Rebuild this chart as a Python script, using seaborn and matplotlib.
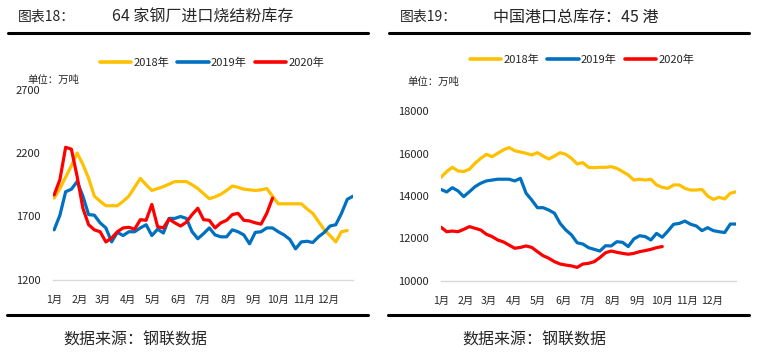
import numpy as np
import pandas as pd
import matplotlib
matplotlib.use("Agg")
import matplotlib.pyplot as plt
import seaborn as sns
from matplotlib.lines import Line2D

sns.set_style("white")
plt.rcParams['font.family'] = ['Noto Sans CJK SC', 'DejaVu Sans']

# weekly data
years = ["2018年", "2019年", "2020年"]
colors = ["#FFC000", "#0070C0", "#FF0000"]
months = ["1月", "2月", "3月", "4月", "5月", "6月", "7月", "8月", "9月", "10月", "11月", "12月"]
month_start_days = [0, 31, 59, 90, 120, 151, 181, 212, 243, 273, 304, 334]

# 64家钢厂进口烧结粉库存 (万吨)
sinter_2018 = [1845, 1920, 2010, 2100, 2200, 2110, 2000, 1860, 1820, 1785, 1785, 1785, 1820,
               1860, 1930, 2000, 1950, 1905, 1920, 1935, 1955, 1975, 1975, 1975, 1950, 1920,
               1880, 1840, 1855, 1875, 1905, 1940, 1930, 1915, 1910, 1905, 1910, 1920, 1860,
               1800, 1800, 1800, 1800, 1800, 1760, 1725, 1660, 1595, 1550, 1500, 1580, 1590]
sinter_2019 = [1595, 1710, 1895, 1915, 1975, 1860, 1715, 1710, 1650, 1610, 1500, 1575, 1550,
               1580, 1580, 1610, 1635, 1550, 1600, 1570, 1685, 1685, 1700, 1685, 1580, 1525,
               1565, 1610, 1555, 1540, 1540, 1595, 1580, 1555, 1485, 1575, 1580, 1610, 1610,
               1580, 1555, 1520, 1445, 1500, 1505, 1495, 1540, 1575, 1625, 1635, 1725, 1835, 1860]
sinter_2020 = [1870, 1990, 2245, 2230, 2015, 1765, 1635, 1595, 1580, 1500, 1530, 1580, 1610,
               1615, 1600, 1675, 1670, 1795, 1620, 1610, 1680, 1650, 1625, 1655, 1715, 1765,
               1675, 1670, 1610, 1650, 1670, 1715, 1725, 1670, 1665, 1650, 1640, 1725, 1845]

# 中国港口总库存:45港 (万吨)
port_2018 = [14880, 15150, 15350, 15180, 15150, 15260, 15540, 15770, 15960, 15850, 16010, 16170,
             16280, 16130, 16070, 16010, 15930, 16040, 15880, 15740, 15880, 16040, 15960, 15770,
             15510, 15570, 15350, 15330, 15350, 15350, 15380, 15300, 15150, 14990, 14750, 14790,
             14750, 14790, 14520, 14410, 14360, 14520, 14520, 14360, 14280, 14280, 14310, 14000,
             13840, 13940, 13860, 14130, 14200]
port_2019 = [14310, 14190, 14390, 14240, 13970, 14200, 14440, 14600, 14710, 14750, 14790, 14790,
             14790, 14710, 14830, 14130, 13810, 13450, 13450, 13340, 13190, 12710, 12400, 12170,
             11800, 11740, 11570, 11490, 11410, 11660, 11650, 11850, 11820, 11620, 11980, 12130,
             12090, 11930, 12240, 12060, 12350, 12670, 12710, 12820, 12670, 12590, 12370, 12510,
             12370, 12320, 12280, 12680, 12680]
port_2020 = [12530, 12320, 12350, 12320, 12430, 12560, 12480, 12400, 12200, 12090, 11930, 11840,
             11690, 11540, 11580, 11650, 11580, 11380, 11190, 11070, 10910, 10800, 10750, 10710,
             10640, 10800, 10830, 10910, 11100, 11330, 11410, 11350, 11300, 11260, 11300, 11380,
             11430, 11490, 11570, 11620]

W, H = 762, 357
fig = plt.figure(figsize=(W / 100, H / 100), dpi=100)


def fx(px):
    return px / W


def fy(py):
    return 1 - py / H


def long_df(series):
    rows = []
    for name, vals in zip(years, series):
        for i, v in enumerate(vals):
            rows.append((i, v, name))
    return pd.DataFrame(rows, columns=["week", "value", "year"])


def panel(x0, x1, ytop, ybot, xlim, yticks, series, unit_xy, legend_xy):
    ax = fig.add_axes([fx(x0), fy(ybot), fx(x1 - x0), fy(ytop) - fy(ybot)])
    df = long_df(series)
    sns.lineplot(data=df, x="week", y="value", hue="year", palette=colors,
                 linewidth=2.3, ax=ax, legend=False)
    ax.set_xlim(*xlim)
    ax.set_ylim(yticks[0], yticks[-1])
    ax.set_yticks(yticks)
    ax.set_yticklabels([str(t) for t in yticks], fontsize=8)
    ax.set_xticks(np.array(month_start_days) / 7)
    ax.set_xticklabels(months, fontsize=7.5)
    ax.tick_params(axis="both", length=0)
    ax.tick_params(axis="x", pad=11)
    ax.tick_params(axis="y", pad=9)
    ax.set_xlabel("")
    ax.set_ylabel("")
    for s in ["top", "right", "left"]:
        ax.spines[s].set_visible(False)
    ax.spines["bottom"].set_color("#d9d9d9")
    ax.spines["bottom"].set_linewidth(1)

    # legend
    handles = [Line2D([], [], color=c, linewidth=2.6) for c in colors]
    fig.legend(handles, years, loc="center left", ncol=3, frameon=False,
               bbox_to_anchor=(fx(legend_xy[0]), fy(legend_xy[1])), borderaxespad=0,
               borderpad=0, fontsize=8, handlelength=2.8, handletextpad=0.2,
               columnspacing=0.75)

    fig.text(fx(unit_xy[0]), fy(unit_xy[1]), "单位：万吨", fontsize=7.5, va="center")
    return ax


ax1 = panel(53, 353, 89.5, 280, (-0.2, 52), [1200, 1700, 2200, 2700],
            [sinter_2018, sinter_2019, sinter_2020], (27, 80), (100, 63))
ax2 = panel(441, 736, 111, 281, (0, 52), [10000, 12000, 14000, 16000, 18000],
            [port_2018, port_2019, port_2020], (407, 82), (470, 60))

# headers
fig.text(fx(18), fy(17), "图表18：", fontsize=10, va="center")
fig.text(fx(112), fy(17), "64 家钢厂进口烧结粉库存", fontsize=11.5, va="center")
fig.text(fx(400), fy(17), "图表19：", fontsize=10, va="center")
fig.text(fx(493), fy(17), "中国港口总库存：45 港", fontsize=11.5, va="center")

for (a, b) in [(8, 368), (389, 749)]:
    fig.add_artist(Line2D([fx(a), fx(b)], [fy(33), fy(33)], color="black", linewidth=2.2))
    fig.add_artist(Line2D([fx(a - 1), fx(b)], [fy(315), fy(315)], color="black", linewidth=2.2))

# footers
fig.text(fx(63), fy(340), "数据来源：钢联数据", fontsize=11.5, va="center")
fig.text(fx(462), fy(340), "数据来源：钢联数据", fontsize=11.5, va="center")

fig.savefig("out.png", dpi=100)
